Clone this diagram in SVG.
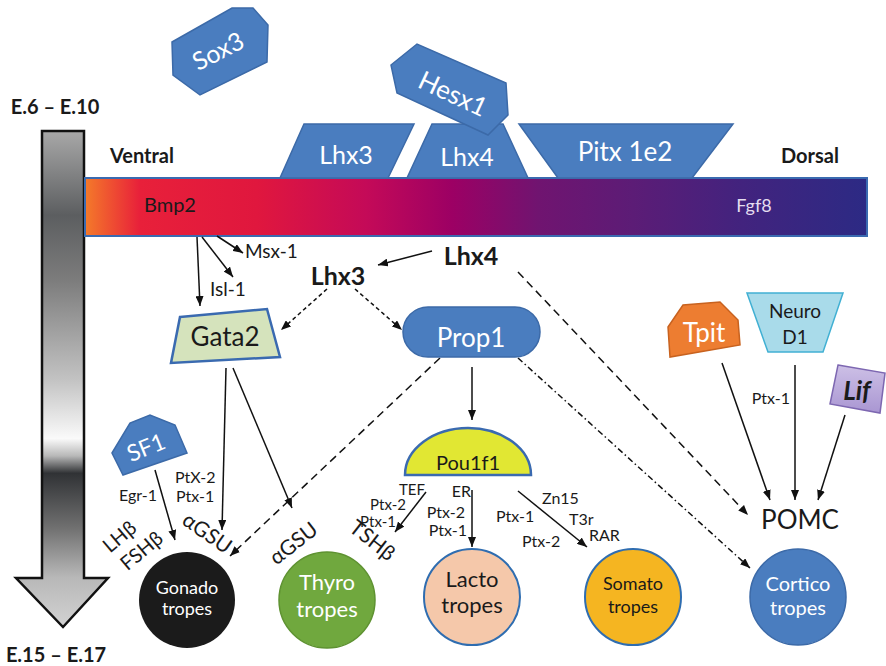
<svg xmlns="http://www.w3.org/2000/svg" width="886" height="666" viewBox="0 0 886 666">
  <defs>
    <linearGradient id="timeGrad" gradientUnits="userSpaceOnUse" x1="0" y1="131" x2="0" y2="627">
      <stop offset="0" stop-color="#a8a8a8"/>
      <stop offset="0.17" stop-color="#5c5e60"/>
      <stop offset="0.3" stop-color="#7c7c7c"/>
      <stop offset="0.5" stop-color="#c2c2c2"/>
      <stop offset="0.62" stop-color="#fafafa"/>
      <stop offset="0.655" stop-color="#b8b8b8"/>
      <stop offset="0.69" stop-color="#303235"/>
      <stop offset="0.8" stop-color="#707070"/>
      <stop offset="0.9" stop-color="#b8b8b8"/>
      <stop offset="1" stop-color="#d2d2d2"/>
    </linearGradient>
    <linearGradient id="barGrad" gradientUnits="userSpaceOnUse" x1="85" y1="0" x2="867" y2="0">
      <stop offset="0" stop-color="#f47a2a"/>
      <stop offset="0.07" stop-color="#e8203a"/>
      <stop offset="0.22" stop-color="#e0173e"/>
      <stop offset="0.36" stop-color="#c40a58"/>
      <stop offset="0.47" stop-color="#9c0064"/>
      <stop offset="0.58" stop-color="#701470"/>
      <stop offset="0.7" stop-color="#5c1c76"/>
      <stop offset="0.84" stop-color="#42237e"/>
      <stop offset="1" stop-color="#2c2a84"/>
    </linearGradient>
    <linearGradient id="lifGrad" x1="0" y1="0" x2="0" y2="1">
      <stop offset="0" stop-color="#cdc0e6"/>
      <stop offset="1" stop-color="#a996d2"/>
    </linearGradient>
    <marker id="ah" markerUnits="userSpaceOnUse" markerWidth="10" markerHeight="8" refX="10" refY="4" orient="auto">
      <path d="M0,0 L10,4 L0,8 z" fill="#111"/>
    </marker>
    <style>
      text { font-family: Lato, "Open Sans", "Liberation Sans", sans-serif; }
      .blue { fill: #4a7dbf; stroke: #3c6aa8; stroke-width: 1.5; }
      .wt { fill: #ffffff; text-anchor: middle; }
      .dk { fill: #1a1a1a; text-anchor: middle; }
      .lbl { fill: #1a1a1a; font-size: 16px; }
      .sm { font-size: 15px; }
      .end { text-anchor: end; }
      .bold { font-weight: bold; fill: #1a1a1a; }
      .ln { stroke: #111; stroke-width: 1.5; fill: none; marker-end: url(#ah); }
      .dsh { stroke-dasharray: 4 3; }
      .ldsh { stroke-dasharray: 8 5; }
      .dd { stroke-dasharray: 6 3 1.5 3; }
    </style>
  </defs>

  <rect width="886" height="666" fill="#ffffff"/>

  <!-- developmental time arrow -->
  <g id="time-arrow">
    <path d="M42,131 L84,131 L84,578 L108,578 L63,627 L16,578 L42,578 Z" fill="url(#timeGrad)" stroke="#111" stroke-width="2.5" stroke-linejoin="miter"/>
    <text x="55" y="114" class="bold" font-size="20" text-anchor="middle">E.6 – E.10</text>
    <text x="56" y="662" class="bold" font-size="20" text-anchor="middle">E.15 – E.17</text>
  </g>

  <!-- morphogen gradient bar -->
  <g id="gradient-bar">
    <rect x="85" y="178" width="782" height="58" fill="url(#barGrad)" stroke="#3a6ab0" stroke-width="2"/>
    <text x="170" y="212" class="dk" font-size="20">Bmp2</text>
    <text x="754" y="212" font-size="18" fill="#e4dcef" text-anchor="middle">Fgf8</text>
    <text x="142" y="163" class="bold" font-size="20" text-anchor="middle">Ventral</text>
    <text x="810" y="163" class="bold" font-size="20" text-anchor="middle">Dorsal</text>
  </g>

  <!-- early factors -->
  <g id="sox3">
    <polygon class="blue" points="172,42 232,8 253,8 268,25 267,62 200,95 173,75"/>
    <text class="wt" font-size="25" transform="translate(222,59) rotate(-27)">Sox3</text>
  </g>
  <g id="lhx3-top">
    <polygon class="blue" points="304,124 414,124 388,178 280,178"/>
    <text class="wt" x="346" y="164" font-size="25">Lhx3</text>
  </g>
  <g id="lhx4-top">
    <polygon class="blue" points="432,124 503,124 528,178 407,178"/>
    <text class="wt" x="467" y="166" font-size="25">Lhx4</text>
  </g>
  <g id="hesx1">
    <polygon class="blue" points="391,65 417,44 506,83 508,115 488,135 397,93"/>
    <text class="wt" font-size="26" transform="translate(449,102) rotate(25)">Hesx1</text>
  </g>
  <g id="pitx">
    <polygon class="blue" points="519,124 733,124 692,178 558,178"/>
    <text class="wt" x="625" y="161" font-size="26">Pitx 1e2</text>
  </g>

  <!-- connectors -->
  <g id="connectors">
    <path class="ln" d="M197,237 L200,306"/>
    <path class="ln" d="M202,237 L233,277"/>
    <path class="ln" d="M217,236 L243,253"/>
    <path class="ln" d="M432,251 L378,265"/>
    <path class="ln dsh" d="M327,289 L281,330"/>
    <path class="ln dsh" d="M355,289 L402,330"/>
    <path class="ln" d="M472,367 L472,420"/>
    <path class="ln ldsh" d="M440,358 L230,556"/>
    <path class="ln dd" d="M518,358 L750,568"/>
    <path class="ln ldsh" d="M518,272 L748,515"/>
    <path class="ln" d="M226,368 L222,530"/>
    <path class="ln" d="M233,368 L292,508"/>
    <path class="ln" d="M155,470 L175,540"/>
    <path class="ln" d="M426,492 L395,532"/>
    <path class="ln" d="M472,490 L472,547"/>
    <path class="ln" d="M518,491 L587,547"/>
    <path class="ln" d="M722,363 L770,500"/>
    <path class="ln" d="M795,365 L795,500"/>
    <path class="ln" d="M845,415 L818,500"/>
  </g>

  <!-- pathway labels -->
  <g id="labels">
    <text x="245" y="258" font-size="19" fill="#1a1a1a">Msx-1</text>
    <text x="210" y="296" font-size="19" fill="#1a1a1a">Isl-1</text>
    <text x="338" y="285" class="bold" font-size="25" text-anchor="middle">Lhx3</text>
    <text x="471" y="265" class="bold" font-size="25" text-anchor="middle">Lhx4</text>
    <text class="lbl" x="175" y="483">PtX-2</text>
    <text class="lbl" x="176" y="502">Ptx-1</text>
    <text class="lbl end" x="157" y="501">Egr-1</text>
    <text class="lbl sm end" x="425" y="495">TEF</text>
    <text class="lbl sm end" x="406" y="510">Ptx-2</text>
    <text class="lbl sm end" x="396" y="527">Ptx-1</text>
    <text class="lbl end" x="471" y="497">ER</text>
    <text class="lbl end" x="465" y="518">Ptx-2</text>
    <text class="lbl end" x="467" y="536">Ptx-1</text>
    <text class="lbl" x="496" y="522">Ptx-1</text>
    <text class="lbl" x="522" y="547">Ptx-2</text>
    <text class="lbl" x="542" y="504">Zn15</text>
    <text class="lbl" x="569" y="525">T3r</text>
    <text class="lbl" x="589" y="541">RAR</text>
    <text class="lbl end" x="790" y="404">Ptx-1</text>
    <text font-size="20" fill="#1a1a1a" text-anchor="middle" transform="translate(124,542) rotate(-40)">LHβ</text>
    <text font-size="20" fill="#1a1a1a" text-anchor="middle" transform="translate(146,556) rotate(-40)">FSHβ</text>
    <text font-size="21" fill="#1a1a1a" text-anchor="middle" transform="translate(203,539) rotate(35)">αGSU</text>
    <text font-size="21" fill="#1a1a1a" text-anchor="middle" transform="translate(298,549) rotate(-38)">αGSU</text>
    <text font-size="21" fill="#1a1a1a" text-anchor="middle" transform="translate(368,546) rotate(38)">TSHβ</text>
    <text x="800" y="529" font-size="26" fill="#1a1a1a" text-anchor="middle">POMC</text>
  </g>

  <!-- intermediate factors -->
  <g id="gata2">
    <polygon points="180,317 267,309 280,357 171,363" fill="#d5e3bc" stroke="#3a6ab0" stroke-width="2.5"/>
    <text class="dk" x="225" y="346" font-size="26">Gata2</text>
  </g>
  <g id="prop1">
    <rect x="403" y="307" width="137" height="50" rx="25" ry="25" class="blue"/>
    <text class="wt" x="471" y="347" font-size="26">Prop1</text>
  </g>
  <g id="pou1f1">
    <path d="M405,475 A63,47 0 0 1 531,475 Z" fill="#e1e733" stroke="#3a6ab0" stroke-width="2.5"/>
    <text class="dk" x="468" y="470" font-size="20">Pou1f1</text>
  </g>
  <g id="sf1">
    <polygon class="blue" points="112,453 130,423 150,415 175,425 187,453 123,475"/>
    <text class="wt" font-size="23" transform="translate(149,455) rotate(-22)">SF1</text>
  </g>
  <g id="tpit">
    <polygon points="668,327 683,305 720,302 738,320 740,345 670,357" fill="#ed7d31" stroke="#c8621f" stroke-width="1.5"/>
    <text class="wt" x="704" y="342" font-size="26">Tpit</text>
  </g>
  <g id="neurod1">
    <polygon points="747,293 843,293 823,352 768,352" fill="#a9dbea" stroke="#41b0d3" stroke-width="1.5"/>
    <text class="dk" x="795" y="318" font-size="19">Neuro</text>
    <text class="dk" x="795" y="344" font-size="19">D1</text>
  </g>
  <g id="lif">
    <polygon points="838,365 885,373 880,413 830,404" fill="url(#lifGrad)" stroke="#7d67b1" stroke-width="1.5"/>
    <text class="dk" x="857" y="400" font-size="26" font-weight="bold" font-style="italic">Lif</text>
  </g>

  <!-- pituitary cell types -->
  <g id="gonadotropes">
    <circle cx="187" cy="600" r="48" fill="#1b1b1b"/>
    <text class="wt" x="187" y="594" font-size="18">Gonado</text>
    <text class="wt" x="187" y="615" font-size="18">tropes</text>
  </g>
  <g id="thyrotropes">
    <circle cx="327" cy="600" r="48" fill="#70a83e" stroke="#5e9231" stroke-width="1.5"/>
    <text class="wt" x="327" y="590" font-size="22">Thyro</text>
    <text class="wt" x="327" y="617" font-size="22">tropes</text>
  </g>
  <g id="lactotropes">
    <circle cx="472" cy="597" r="48" fill="#f5c8aa" stroke="#2f6db0" stroke-width="2"/>
    <text class="dk" x="472" y="587" font-size="22">Lacto</text>
    <text class="dk" x="472" y="613" font-size="22">tropes</text>
  </g>
  <g id="somatotropes">
    <circle cx="633" cy="597" r="48" fill="#f5b521" stroke="#2f6db0" stroke-width="2"/>
    <text class="dk" x="633" y="590" font-size="18">Somato</text>
    <text class="dk" x="633" y="613" font-size="18">tropes</text>
  </g>
  <g id="corticotropes">
    <circle cx="798" cy="597" r="48" fill="#4a7dbf" stroke="#3c6aa8" stroke-width="1.5"/>
    <text class="wt" x="798" y="591" font-size="20">Cortico</text>
    <text class="wt" x="798" y="615" font-size="20">tropes</text>
  </g>
</svg>
